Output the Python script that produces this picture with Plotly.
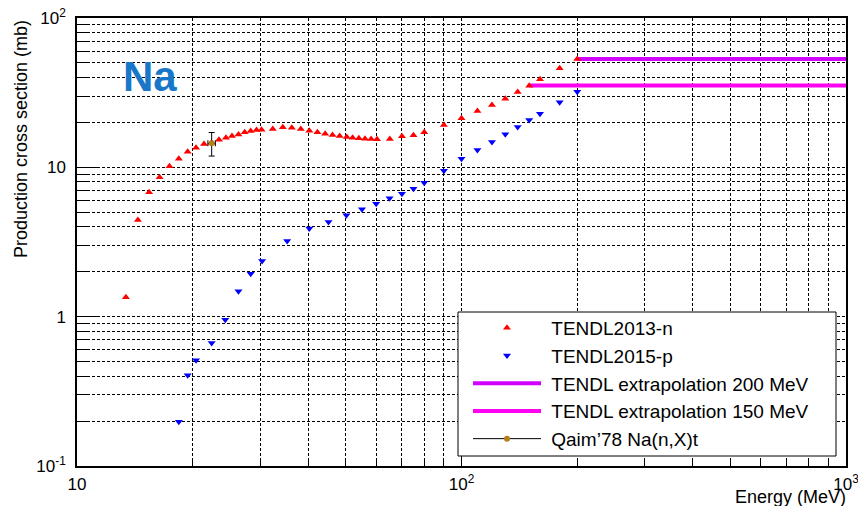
import plotly.graph_objects as go

# TENDL2013 neutron-induced tritium production on Na (mb)
n_energy = [13.4, 14.4, 15.4, 16.4, 17.4, 18.4, 19.4, 20.4, 21.4, 22.4,
            23.4, 24.4, 25.3, 26.3, 27.3, 28.3, 29.3, 30.2,
            32.3, 34.3, 36.2, 38.2, 40.2, 42.2, 44.2, 46.2, 48.2, 50.3,
            52.1, 54.1, 56.1, 58.2, 60.3,
            65.1, 70, 75, 80, 90,
            100, 110, 120, 130, 140,
            150, 160, 180, 200]
n_xsec = [1.35, 4.44, 6.80, 8.57, 10.16, 11.42, 12.72, 13.53, 14.32, 14.6,
          15.3, 15.8, 16.2, 16.6, 17.15, 17.5, 17.78, 17.86,
          18.05, 18.53, 18.4, 18.05, 17.59, 17.15, 16.8, 16.46, 16.2, 15.96,
          15.8, 15.65, 15.55, 15.48, 15.4,
          15.48, 16.13, 16.38, 17.15, 19.2,
          21.29, 23.83, 26.14, 28.8, 31.9,
          35.2, 38.85, 46.0, 53.1]

# TENDL2015 proton-induced
p_energy = [18.4, 19.4, 20.4, 22.4, 24.3, 26.3, 28.3, 30.3,
            35.2, 40.2, 45.1, 50.2, 55.1, 60, 65, 70, 75, 80,
            90, 100, 110, 120, 130, 140, 150, 160, 180, 200]
p_xsec = [0.198, 0.405, 0.51, 0.666, 0.953, 1.48, 1.94, 2.36,
          3.21, 3.90, 4.30, 4.77, 5.23, 5.70, 6.2, 6.66, 7.19, 7.89,
          9.49, 11.42, 13.06, 14.78, 16.63, 18.62, 20.74, 22.86, 27.25, 32.1]

# constant extrapolations above the last TENDL point
ext_start = [200, 150]
ext_value = [53.1, 35.3]
ext_names = ["TENDL extrapolation 200 MeV", "TENDL extrapolation 150 MeV"]
ext_colors = ["#d200ff", "#ff00f0"]
e_max = 1000

# Qaim'78 measurement
qaim_e = [22.4]
qaim_xs = [14.5]
qaim_de = [0.5]
qaim_dxs = [2.6]

x_tickvals = [10, 100, 1000]
x_ticktext = ["10", "10<sup>2</sup>", "10<sup>3</sup>"]
y_tickvals = [0.1, 1, 10, 100]
y_ticktext = ["10<sup>-1</sup>", "1", "10", "10<sup>2</sup>"]
x_minor = [m * d for d in (10, 100) for m in range(2, 10)]
y_minor = [m * d for d in (0.1, 1, 10) for m in range(2, 10)]

FONT = "Liberation Sans, Arial, Helvetica, sans-serif"
PAD = "\u00a0"  # small gap between legend symbol and label

fig = go.Figure()

for start, val, name, col, rank in zip(ext_start, ext_value, ext_names, ext_colors, (3, 4)):
    fig.add_trace(go.Scatter(
        x=[start, e_max], y=[val, val], mode="lines", name=PAD + name,
        line=dict(color=col, width=4), legendrank=rank))

fig.add_trace(go.Scatter(
    x=p_energy, y=p_xsec, mode="markers", name=PAD + "TENDL2015-p",
    marker=dict(symbol="triangle-down", color="#0000ff", size=7),
    legendrank=2))

fig.add_trace(go.Scatter(
    x=n_energy, y=n_xsec, mode="markers", name=PAD + "TENDL2013-n",
    marker=dict(symbol="triangle-up", color="#ff0000", size=7),
    legendrank=1))

fig.add_trace(go.Scatter(
    x=qaim_e, y=qaim_xs, mode="lines+markers", name=PAD + "Qaim\u201978 Na(n,X)t",
    line=dict(color="black", width=1),
    marker=dict(symbol="circle", color="#b87d1b", size=6),
    error_y=dict(type="data", array=qaim_dxs, color="black", thickness=1, width=3),
    error_x=dict(type="data", array=qaim_de, color="black", thickness=1, width=3),
    legendrank=5))

grid = dict(showgrid=True, gridcolor="black", gridwidth=1.3, griddash="3px,2px")

fig.update_xaxes(
    type="log", range=[1, 3], automargin=False, ticklabeloverflow="allow",
    tickmode="array", tickvals=x_tickvals, ticktext=x_ticktext,
    ticks="inside", ticklen=11, tickwidth=1, tickcolor="black",
    showline=True, linecolor="black", linewidth=1.5, mirror=True,
    zeroline=False, ticklabelstandoff=2,
    tickfont=dict(family=FONT, size=17, color="black"),
    minor=dict(tickmode="array", tickvals=x_minor, ticks="inside", ticklen=8,
               tickcolor="black", tickwidth=1, **grid),
    **grid)

fig.update_yaxes(
    type="log", range=[-1, 2], automargin=False, ticklabeloverflow="allow",
    tickmode="array", tickvals=y_tickvals, ticktext=y_ticktext,
    ticks="inside", ticklen=22, tickwidth=1, tickcolor="black",
    showline=True, linecolor="black", linewidth=1.5, mirror=True,
    zeroline=False, ticklabelstandoff=6,
    tickfont=dict(family=FONT, size=17, color="black"),
    minor=dict(tickmode="array", tickvals=y_minor, ticks="inside", ticklen=11,
               tickcolor="black", tickwidth=1, **grid),
    **grid)

L, R, T, B = 77, 12, 18, 40
W, H = 858, 506
pw, ph = W - L - R, H - T - B


def px_x(p):
    return (p - L) / pw


def px_y(p):
    return (H - B - p) / ph


# legend frame
fig.add_shape(type="rect", xref="paper", yref="paper",
              x0=px_x(458), x1=px_x(836), y0=px_y(456), y1=px_y(312),
              line=dict(color="black", width=1), fillcolor="white", layer="above")

fig.add_annotation(text="Production cross section (mb)", textangle=-90,
                   xref="paper", yref="paper", x=px_x(21), y=1.0,
                   xanchor="center", yanchor="top", showarrow=False,
                   font=dict(family=FONT, size=18, color="black"))
fig.add_annotation(text="Energy (MeV)", xref="paper", yref="paper",
                   x=px_x(848), y=px_y(497), xanchor="right", yanchor="middle",
                   showarrow=False, font=dict(family=FONT, size=18, color="black"))
fig.add_annotation(text="<b>Na</b>", xref="paper", yref="paper",
                   x=px_x(149.5), y=px_y(76), xanchor="center", yanchor="middle",
                   showarrow=False, font=dict(family=FONT, size=42, color="#1877c8"))

fig.update_layout(
    width=W, height=H,
    margin=dict(l=L, r=R, t=T, b=B, autoexpand=False),
    paper_bgcolor="white", plot_bgcolor="white",
    showlegend=True,
    legend=dict(x=px_x(468), y=px_y(309), xanchor="left", yanchor="top",
                bgcolor="rgba(0,0,0,0)", borderwidth=0, itemwidth=68,
                font=dict(family=FONT, size=19, color="black")),
    font=dict(family=FONT),
)

fig.write_html("out.html")
